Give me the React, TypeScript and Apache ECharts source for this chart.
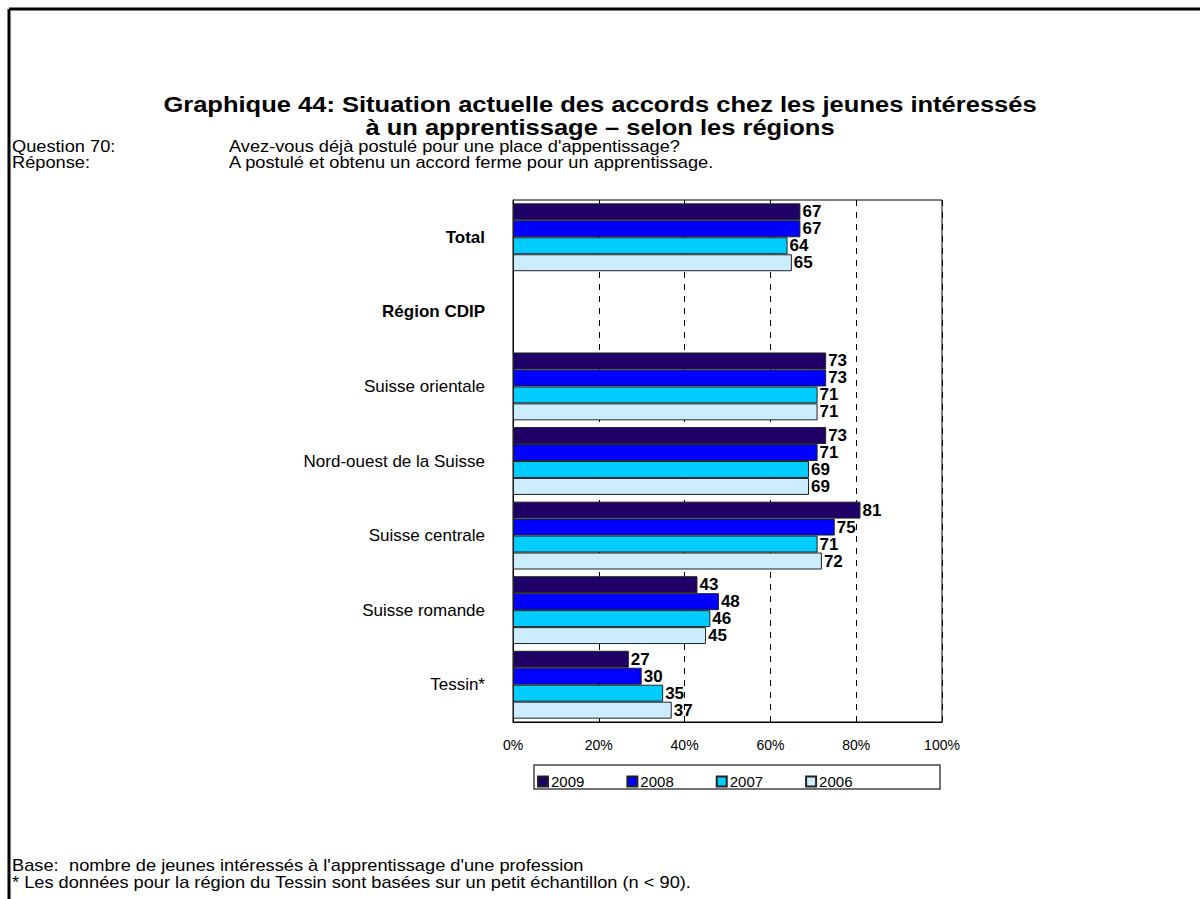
import React, { useEffect, useRef } from "react";
import * as echarts from "echarts";

const categories = [
  "Total",
  "Région CDIP",
  "Suisse orientale",
  "Nord-ouest de la Suisse",
  "Suisse centrale",
  "Suisse romande",
  "Tessin*",
];
const years = ["2009", "2008", "2007", "2006"];
const s2009 = [67, null, 73, 73, 81, 43, 27];
const s2008 = [67, null, 73, 71, 75, 48, 30];
const s2007 = [64, null, 71, 69, 71, 46, 35];
const s2006 = [65, null, 71, 69, 72, 45, 37];
const colors = ["#1F0066", "#0000FF", "#00CCFF", "#CCECFF"];
const xTicks = [0, 20, 40, 60, 80, 100];

const FONT = "Liberation Sans";

function txt(x: number, y: number, text: string, size: number, bold = false, align = "left", sx = 1) {
  return {
    type: "text",
    x,
    y,
    scaleX: sx,
    style: {
      text,
      fontSize: size,
      fontFamily: FONT,
      fontWeight: bold ? "bold" : "normal",
      fill: "#000",
      align,
      verticalAlign: "middle",
    },
  };
}

export default function App() {
  const ref = useRef<HTMLDivElement>(null);
  useEffect(() => {
    if (!ref.current) return;
    const chart = echarts.init(ref.current, null, { renderer: "svg" });
    const data = [s2009, s2008, s2007, s2006];
    chart.setOption({
      animation: false,
      backgroundColor: "#fff",
      textStyle: { fontFamily: FONT },
      grid: {
        left: 513,
        top: 200,
        width: 429,
        height: 522,
        show: true,
        borderColor: "#000",
        borderWidth: 1,
        backgroundColor: "transparent",
      },
      legend: {
        data: years,
        left: 532,
        top: 769,
        itemWidth: 10,
        itemHeight: 10,
        itemGap: 42,
        icon: "rect",
        textStyle: { fontFamily: FONT, fontSize: 15, color: "#000", padding: [0, 0, 0, -2] },
      },
      xAxis: {
        type: "value",
        min: xTicks[0],
        max: xTicks[xTicks.length - 1],
        interval: 20,
        axisLine: { show: true, lineStyle: { color: "#000" } },
        axisTick: { show: false },
        axisLabel: {
          formatter: "{value}%",
          color: "#000",
          fontSize: 14,
          fontFamily: FONT,
          margin: 16,
        },
        splitLine: {
          show: true,
          lineStyle: { color: "#000", type: [6, 6], width: 1 },
        },
      },
      yAxis: {
        type: "category",
        data: categories,
        inverse: true,
        axisLine: { show: true, lineStyle: { color: "#000" } },
        axisTick: { show: false },
        axisLabel: {
          color: "#000",
          fontSize: 17,
          fontFamily: FONT,
          margin: 28,
          formatter: (v: string) =>
            v === "Total" || v === "Région CDIP" ? `{b|${v}}` : v,
          rich: { b: { fontWeight: "bold", fontSize: 17, fontFamily: FONT, color: "#000" } },
        },
      },
      series: years.map((y, i) => ({
        name: y,
        type: "bar",
        data: data[i],
        barGap: "0%",
        barCategoryGap: "9%",
        itemStyle: { color: colors[i], borderColor: "#222", borderWidth: 1 },
        label: {
          show: true,
          position: "right",
          distance: 2,
          color: "#000",
          fontWeight: "bold",
          fontSize: 17,
          fontFamily: FONT,
        },
      })),
      graphic: [
        { type: "line", shape: { x1: 9, y1: 9, x2: 1200, y2: 9 }, style: { stroke: "#000", lineWidth: 3 } },
        { type: "line", shape: { x1: 9, y1: 9, x2: 9, y2: 899 }, style: { stroke: "#000", lineWidth: 3 } },
        txt(600, 104, "Graphique 44: Situation actuelle des accords chez les jeunes intéressés", 22, true, "center", 1.16),
        txt(600, 127, "à un apprentissage – selon les régions", 22, true, "center", 1.16),
        txt(12, 146, "Question 70:", 16, false, "left", 1.14),
        txt(229, 146, "Avez-vous déjà postulé pour une place d'appentissage?", 16, false, "left", 1.14),
        txt(12, 162, "Réponse:", 16, false, "left", 1.14),
        txt(229, 162, "A postulé et obtenu un accord ferme pour un apprentissage.", 16, false, "left", 1.14),
        {
          type: "rect",
          shape: { x: 534, y: 765, width: 406, height: 24 },
          style: { fill: "none", stroke: "#444", lineWidth: 1.5 },
          z: 0,
        },
        txt(12, 865, "Base:", 16, false, "left", 1.14),
        txt(69, 865, "nombre de jeunes intéressés à l'apprentissage d'une profession", 16, false, "left", 1.14),
        txt(12, 882, "* Les données pour la région du Tessin sont basées sur un petit échantillon (n < 90).", 16, false, "left", 1.14),
      ],
    });
    return () => chart.dispose();
  }, []);
  return (
    <div
      ref={ref}
      style={{ position: "fixed", left: 0, top: 0, width: 1200, height: 899 }}
    />
  );
}
